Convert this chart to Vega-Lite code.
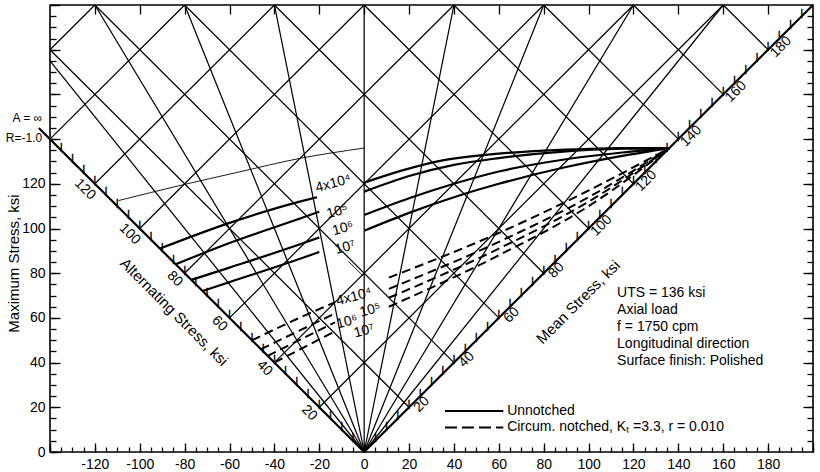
{
  "$schema": "https://vega.github.io/schema/vega-lite/v6.json",
  "width": 763,
  "height": 447,
  "autosize": {"type": "none"},
  "padding": {"left": 50, "top": 5, "right": 7, "bottom": 20},
  "background": "white",
  "config": {
    "view": {"stroke": "black", "strokeWidth": 1.6},
    "axis": {"labelFont": "Liberation Sans", "labelFontSize": 14, "labelColor": "black", "tickColor": "black", "tickWidth": 1.3, "domain": false, "grid": false, "titleFont": "Liberation Sans", "titleFontSize": 15, "titleFontWeight": "normal", "titleColor": "black", "labelFlush": false, "labelOverlap": false},
    "text": {"font": "Liberation Sans", "fontSize": 15, "color": "black"}
  },
  "datasets": {
    "grid": [
      {"id": "m20", "x": 20, "y": 20}, {"id": "m20", "x": -140, "y": 180},
      {"id": "m40", "x": 40, "y": 40}, {"id": "m40", "x": -120, "y": 200},
      {"id": "m60", "x": 60, "y": 60}, {"id": "m60", "x": -80, "y": 200},
      {"id": "m80", "x": 80, "y": 80}, {"id": "m80", "x": -40, "y": 200},
      {"id": "m100", "x": 100, "y": 100}, {"id": "m100", "x": 0, "y": 200},
      {"id": "m120", "x": 120, "y": 120}, {"id": "m120", "x": 40, "y": 200},
      {"id": "m140", "x": 140, "y": 140}, {"id": "m140", "x": 80, "y": 200},
      {"id": "m160", "x": 160, "y": 160}, {"id": "m160", "x": 120, "y": 200},
      {"id": "m180", "x": 180, "y": 180}, {"id": "m180", "x": 160, "y": 200},
      {"id": "a20", "x": -20, "y": 20}, {"id": "a20", "x": 160, "y": 200},
      {"id": "a40", "x": -40, "y": 40}, {"id": "a40", "x": 120, "y": 200},
      {"id": "a60", "x": -60, "y": 60}, {"id": "a60", "x": 80, "y": 200},
      {"id": "a80", "x": -80, "y": 80}, {"id": "a80", "x": 40, "y": 200},
      {"id": "a100", "x": -100, "y": 100}, {"id": "a100", "x": 0, "y": 200},
      {"id": "a120", "x": -120, "y": 120}, {"id": "a120", "x": -40, "y": 200},
      {"id": "a140", "x": -140, "y": 140}, {"id": "a140", "x": -80, "y": 200},
      {"id": "a160", "x": -140, "y": 180}, {"id": "a160", "x": -120, "y": 200}
    ],
    "radial": [
      {"id": "r-0.8", "x": 0, "y": 0}, {"id": "r-0.8", "x": -140, "y": 175},
      {"id": "r-0.6", "x": 0, "y": 0}, {"id": "r-0.6", "x": -120, "y": 200},
      {"id": "r-0.4", "x": 0, "y": 0}, {"id": "r-0.4", "x": -80, "y": 200},
      {"id": "r-0.2", "x": 0, "y": 0}, {"id": "r-0.2", "x": -40, "y": 200},
      {"id": "r0", "x": 0, "y": 0}, {"id": "r0", "x": 0, "y": 200},
      {"id": "r0.2", "x": 0, "y": 0}, {"id": "r0.2", "x": 40, "y": 200},
      {"id": "r0.4", "x": 0, "y": 0}, {"id": "r0.4", "x": 80, "y": 200},
      {"id": "r0.6", "x": 0, "y": 0}, {"id": "r0.6", "x": 120, "y": 200},
      {"id": "r0.8", "x": 0, "y": 0}, {"id": "r0.8", "x": 160, "y": 200}
    ],
    "mainaxes": [
      {"id": "alt", "x": -145, "y": 145}, {"id": "alt", "x": 0, "y": 0},
      {"id": "mean", "x": 0, "y": 0}, {"id": "mean", "x": 200, "y": 200}
    ],
    "ticks": [
      {"x": -5, "y": 5}, {"x": -10, "y": 10}, {"x": -15, "y": 15}, {"x": -20, "y": 20}, {"x": -25, "y": 25}, {"x": -30, "y": 30}, {"x": -35, "y": 35}, {"x": -40, "y": 40}, {"x": -45, "y": 45}, {"x": -50, "y": 50}, {"x": -55, "y": 55}, {"x": -60, "y": 60}, {"x": -65, "y": 65}, {"x": -70, "y": 70}, {"x": -75, "y": 75}, {"x": -80, "y": 80}, {"x": -85, "y": 85}, {"x": -90, "y": 90}, {"x": -95, "y": 95}, {"x": -100, "y": 100}, {"x": -105, "y": 105}, {"x": -110, "y": 110}, {"x": -115, "y": 115}, {"x": -120, "y": 120}, {"x": -125, "y": 125}, {"x": -130, "y": 130}, {"x": -135, "y": 135},
      {"x": 5, "y": 5}, {"x": 10, "y": 10}, {"x": 15, "y": 15}, {"x": 20, "y": 20}, {"x": 25, "y": 25}, {"x": 30, "y": 30}, {"x": 35, "y": 35}, {"x": 40, "y": 40}, {"x": 45, "y": 45}, {"x": 50, "y": 50}, {"x": 55, "y": 55}, {"x": 60, "y": 60}, {"x": 65, "y": 65}, {"x": 70, "y": 70}, {"x": 75, "y": 75}, {"x": 80, "y": 80}, {"x": 85, "y": 85}, {"x": 90, "y": 90}, {"x": 95, "y": 95}, {"x": 100, "y": 100}, {"x": 105, "y": 105}, {"x": 110, "y": 110}, {"x": 115, "y": 115}, {"x": 120, "y": 120}, {"x": 125, "y": 125}, {"x": 130, "y": 130}, {"x": 135, "y": 135}, {"x": 140, "y": 140}, {"x": 145, "y": 145}, {"x": 150, "y": 150}, {"x": 155, "y": 155}, {"x": 160, "y": 160}, {"x": 165, "y": 165}, {"x": 170, "y": 170}, {"x": 175, "y": 175}, {"x": 180, "y": 180}, {"x": 185, "y": 185}, {"x": 190, "y": 190}, {"x": 195, "y": 195}
    ],
    "altlabels": [
      {"x": -20, "y": 20, "t": "20"}, {"x": -40, "y": 40, "t": "40"}, {"x": -60, "y": 60, "t": "60"}, {"x": -80, "y": 80, "t": "80"}, {"x": -100, "y": 100, "t": "100"}, {"x": -120, "y": 120, "t": "120"}
    ],
    "meanlabels": [
      {"x": 20, "y": 20, "t": "20"}, {"x": 40, "y": 40, "t": "40"}, {"x": 60, "y": 60, "t": "60"}, {"x": 80, "y": 80, "t": "80"}, {"x": 100, "y": 100, "t": "100"}, {"x": 120, "y": 120, "t": "120"}, {"x": 140, "y": 140, "t": "140"}, {"x": 160, "y": 160, "t": "160"}, {"x": 180, "y": 180, "t": "180"}
    ],
    "solid": [
      {"c": "u4a", "x": -91, "y": 91}, {"c": "u4a", "x": -60, "y": 102.5}, {"c": "u4a", "x": -27, "y": 112.5}, {"c": "u4a", "x": -21, "y": 114},
      {"c": "u4b", "x": 0, "y": 120.5}, {"c": "u4b", "x": 17, "y": 126}, {"c": "u4b", "x": 35, "y": 130.5}, {"c": "u4b", "x": 60, "y": 133.5}, {"c": "u4b", "x": 90, "y": 135.3}, {"c": "u4b", "x": 115, "y": 136}, {"c": "u4b", "x": 136, "y": 136},
      {"c": "u5a", "x": -84, "y": 84}, {"c": "u5a", "x": -60, "y": 93.5}, {"c": "u5a", "x": -27, "y": 105}, {"c": "u5a", "x": -20, "y": 107.5},
      {"c": "u5b", "x": 0, "y": 116.5}, {"c": "u5b", "x": 20, "y": 123.5}, {"c": "u5b", "x": 40, "y": 128.5}, {"c": "u5b", "x": 60, "y": 131.5}, {"c": "u5b", "x": 90, "y": 134.5}, {"c": "u5b", "x": 115, "y": 135.7}, {"c": "u5b", "x": 136, "y": 136},
      {"c": "u6a", "x": -77, "y": 77}, {"c": "u6a", "x": -60, "y": 82.5}, {"c": "u6a", "x": -27, "y": 93.5}, {"c": "u6a", "x": -20, "y": 96},
      {"c": "u6b", "x": 0, "y": 106}, {"c": "u6b", "x": 20, "y": 113.5}, {"c": "u6b", "x": 40, "y": 120}, {"c": "u6b", "x": 60, "y": 125.5}, {"c": "u6b", "x": 90, "y": 131}, {"c": "u6b", "x": 115, "y": 134}, {"c": "u6b", "x": 136, "y": 136},
      {"c": "u7a", "x": -72, "y": 72}, {"c": "u7a", "x": -60, "y": 76}, {"c": "u7a", "x": -27, "y": 87}, {"c": "u7a", "x": -20, "y": 89.5},
      {"c": "u7b", "x": 0, "y": 99}, {"c": "u7b", "x": 20, "y": 107}, {"c": "u7b", "x": 40, "y": 114}, {"c": "u7b", "x": 60, "y": 120}, {"c": "u7b", "x": 90, "y": 127.5}, {"c": "u7b", "x": 115, "y": 132.5}, {"c": "u7b", "x": 136, "y": 136}
    ],
    "dashed": [
      {"c": "n4a", "x": -50, "y": 50}, {"c": "n4a", "x": -30, "y": 59.5}, {"c": "n4a", "x": -13, "y": 67},
      {"c": "n4b", "x": 11, "y": 78}, {"c": "n4b", "x": 60, "y": 98}, {"c": "n4b", "x": 100, "y": 117}, {"c": "n4b", "x": 136, "y": 136},
      {"c": "n5a", "x": -46, "y": 46}, {"c": "n5a", "x": -13, "y": 62},
      {"c": "n5b", "x": 11, "y": 73}, {"c": "n5b", "x": 60, "y": 94}, {"c": "n5b", "x": 100, "y": 114}, {"c": "n5b", "x": 136, "y": 136},
      {"c": "n6a", "x": -43, "y": 43}, {"c": "n6a", "x": -13, "y": 58},
      {"c": "n6b", "x": 11, "y": 69}, {"c": "n6b", "x": 60, "y": 91}, {"c": "n6b", "x": 100, "y": 112}, {"c": "n6b", "x": 136, "y": 136},
      {"c": "n7a", "x": -40, "y": 40}, {"c": "n7a", "x": -13, "y": 54},
      {"c": "n7b", "x": 11, "y": 65}, {"c": "n7b", "x": 60, "y": 88}, {"c": "n7b", "x": 100, "y": 110}, {"c": "n7b", "x": 136, "y": 136}
    ],
    "thin": [
      {"c": "t", "x": -109.5, "y": 112.5}, {"c": "t", "x": -81, "y": 119.5}, {"c": "t", "x": -57, "y": 125}, {"c": "t", "x": -28, "y": 131.5}, {"c": "t", "x": 0, "y": 136},
      {"c": "leader", "x": -7.1, "y": 85.4}, {"c": "leader", "x": -0.4, "y": 78.7}
    ],
    "curvelabels": [
      {"x": -13.8, "y": 120.1, "t": "4x10⁴"}, {"x": -12, "y": 107.6, "t": "10⁵"}, {"x": -9.4, "y": 100, "t": "10⁶"}, {"x": -8.5, "y": 91.5, "t": "10⁷"},
      {"x": -4.5, "y": 69.4, "t": "4x10⁴"}, {"x": 2.7, "y": 63.5, "t": "10⁵"}, {"x": -7.6, "y": 58.2, "t": "10⁶"}, {"x": 0, "y": 54.1, "t": "10⁷"}
    ],
    "notes": [
      {"x": 112.7, "y": 71.1, "t": "UTS = 136 ksi"},
      {"x": 112.7, "y": 63.5, "t": "Axial load"},
      {"x": 112.7, "y": 55.9, "t": "f = 1750 cpm"},
      {"x": 112.7, "y": 48.1, "t": "Longitudinal direction"},
      {"x": 112.7, "y": 40.9, "t": "Surface finish: Polished"},
      {"x": 63.7, "y": 18.3, "t": "Unnotched"},
      {"x": 63.7, "y": 11.0, "t": "Circum. notched, Kₜ =3.3, r = 0.010"}
    ],
    "rlabels": [
      {"x": -143.5, "y": 149.4, "t": "A = ∞"},
      {"x": -143.5, "y": 140.5, "t": "R=-1.0"}
    ],
    "legsolid": [{"x": 36, "y": 18.3}, {"x": 62, "y": 18.3}],
    "legdash": [{"x": 36, "y": 11.0}, {"x": 62, "y": 11.0}],
    "alttitle": [{"x": -84.7, "y": 62.6, "t": "Alternating Stress, ksi"}],
    "meantitle": [{"x": 95.4, "y": 67.1, "t": "Mean Stress, ksi"}]
  },
  "resolve": {"axis": {"x": "independent", "y": "independent"}},
  "layer": [
    {
      "data": {"name": "grid"},
      "mark": {"type": "line", "stroke": "black", "strokeWidth": 1.25},
      "encoding": {
        "x": {"field": "x", "type": "quantitative", "scale": {"domain": [-140, 200], "nice": false, "zero": false},
          "axis": {"orient": "bottom", "title": null, "values": [-140, -120, -100, -80, -60, -40, -20, 0, 20, 40, 60, 80, 100, 120, 140, 160, 180, 200], "labelExpr": "datum.value > -140 && datum.value < 200 ? replace(datum.label, '−', '-') : ''", "tickSize": -9, "labelPadding": 14}},
        "y": {"field": "y", "type": "quantitative", "scale": {"domain": [0, 200], "nice": false, "zero": false},
          "axis": {"orient": "left", "title": "Maximum Stress, ksi", "titleX": -37, "titleY": 258, "titleAngle": -90, "titleAlign": "center", "titleBaseline": "middle", "titleFontSize": 15, "values": [0, 20, 40, 60, 80, 100, 120, 140, 160, 180, 200], "labelExpr": "datum.value <= 120 ? datum.label : ''", "tickSize": -10, "labelPadding": 15}},
        "detail": {"field": "id"}
      }
    },
    {
      "data": {"name": "radial"},
      "mark": {"type": "line", "stroke": "black", "strokeWidth": 1.25},
      "encoding": {
        "x": {"field": "x", "type": "quantitative", "scale": {"domain": [-140, 200], "nice": false, "zero": false},
          "axis": {"orient": "bottom", "title": null, "labels": false, "tickSize": -5, "values": [-140, -135, -130, -125, -120, -115, -110, -105, -100, -95, -90, -85, -80, -75, -70, -65, -60, -55, -50, -45, -40, -35, -30, -25, -20, -15, -10, -5, 0, 5, 10, 15, 20, 25, 30, 35, 40, 45, 50, 55, 60, 65, 70, 75, 80, 85, 90, 95, 100, 105, 110, 115, 120, 125, 130, 135, 140, 145, 150, 155, 160, 165, 170, 175, 180, 185, 190, 195, 200]}},
        "y": {"field": "y", "type": "quantitative", "scale": {"domain": [0, 200], "nice": false, "zero": false},
          "axis": {"orient": "left", "title": null, "labels": false, "tickSize": -6, "values": [0, 5, 10, 15, 20, 25, 30, 35, 40, 45, 50, 55, 60, 65, 70, 75, 80, 85, 90, 95, 100, 105, 110, 115, 120, 125, 130, 135, 140, 145, 150, 155, 160, 165, 170, 175, 180, 185, 190, 195, 200]}},
        "detail": {"field": "id"}
      }
    },
    {
      "data": {"name": "mainaxes"},
      "mark": {"type": "line", "stroke": "black", "strokeWidth": 2.2, "clip": false},
      "encoding": {
        "x": {"field": "x", "type": "quantitative", "scale": {"domain": [-140, 200], "nice": false, "zero": false},
          "axis": {"orient": "top", "title": null, "labels": false, "tickSize": -9, "values": [-120, -100, -80, -60, -40, -20, 0, 20, 40, 60, 80, 100, 120, 140, 160, 180]}},
        "y": {"field": "y", "type": "quantitative", "scale": {"domain": [0, 200], "nice": false, "zero": false},
          "axis": {"orient": "right", "title": null, "labels": false, "tickSize": -6, "values": [5, 10, 15, 20, 25, 30, 35, 40, 45, 50, 55, 60, 65, 70, 75, 80, 85, 90, 95, 100, 105, 110, 115, 120, 125, 130, 135, 140, 145, 150, 155, 160, 165, 170, 175, 180, 185, 190, 195]}},
        "detail": {"field": "id"}
      }
    },
    {
      "data": {"name": "ticks"},
      "mark": {"type": "text", "text": "|", "fontSize": 9, "baseline": "bottom", "align": "center", "dy": 1.5, "font": "DejaVu Sans", "color": "black", "stroke": "black", "strokeWidth": 0.5},
      "encoding": {
        "x": {"field": "x", "type": "quantitative", "scale": {"domain": [-140, 200], "nice": false, "zero": false}, "axis": null},
        "y": {"field": "y", "type": "quantitative", "scale": {"domain": [0, 200], "nice": false, "zero": false}, "axis": null}
      }
    },
    {
      "data": {"name": "solid"},
      "mark": {"type": "line", "stroke": "black", "strokeWidth": 2.2, "interpolate": "monotone"},
      "encoding": {
        "x": {"field": "x", "type": "quantitative", "scale": {"domain": [-140, 200], "nice": false, "zero": false}, "axis": null},
        "y": {"field": "y", "type": "quantitative", "scale": {"domain": [0, 200], "nice": false, "zero": false}, "axis": null},
        "detail": {"field": "c"}
      }
    },
    {
      "data": {"name": "dashed"},
      "mark": {"type": "line", "stroke": "black", "strokeWidth": 2, "strokeDash": [9, 5], "interpolate": "monotone"},
      "encoding": {
        "x": {"field": "x", "type": "quantitative", "scale": {"domain": [-140, 200], "nice": false, "zero": false}, "axis": null},
        "y": {"field": "y", "type": "quantitative", "scale": {"domain": [0, 200], "nice": false, "zero": false}, "axis": null},
        "detail": {"field": "c"}
      }
    },
    {
      "data": {"name": "thin"},
      "mark": {"type": "line", "stroke": "black", "strokeWidth": 0.9, "interpolate": "monotone"},
      "encoding": {
        "x": {"field": "x", "type": "quantitative", "scale": {"domain": [-140, 200], "nice": false, "zero": false}, "axis": null},
        "y": {"field": "y", "type": "quantitative", "scale": {"domain": [0, 200], "nice": false, "zero": false},
          "axis": {"orient": "right", "title": null, "labels": false, "tickSize": -10, "values": [20, 40, 60, 80, 100, 120, 140, 160, 180]}},
        "detail": {"field": "c"}
      }
    },
    {
      "data": {"name": "legsolid"},
      "mark": {"type": "line", "stroke": "black", "strokeWidth": 2},
      "encoding": {
        "x": {"field": "x", "type": "quantitative", "scale": {"domain": [-140, 200], "nice": false, "zero": false}, "axis": null},
        "y": {"field": "y", "type": "quantitative", "scale": {"domain": [0, 200], "nice": false, "zero": false}, "axis": null}
      }
    },
    {
      "data": {"name": "legdash"},
      "mark": {"type": "line", "stroke": "black", "strokeWidth": 2, "strokeDash": [12, 5]},
      "encoding": {
        "x": {"field": "x", "type": "quantitative", "scale": {"domain": [-140, 200], "nice": false, "zero": false}, "axis": null},
        "y": {"field": "y", "type": "quantitative", "scale": {"domain": [0, 200], "nice": false, "zero": false}, "axis": null}
      }
    },
    {
      "data": {"name": "altlabels"},
      "mark": {"type": "text", "angle": 45, "fontSize": 14, "dx": -3, "dy": 11, "align": "center", "baseline": "middle"},
      "encoding": {
        "x": {"field": "x", "type": "quantitative", "scale": {"domain": [-140, 200], "nice": false, "zero": false}, "axis": null},
        "y": {"field": "y", "type": "quantitative", "scale": {"domain": [0, 200], "nice": false, "zero": false}, "axis": null},
        "text": {"field": "t"}
      }
    },
    {
      "data": {"name": "meanlabels"},
      "mark": {"type": "text", "angle": -45, "fontSize": 14, "dx": 11, "dy": 7, "align": "center", "baseline": "middle"},
      "encoding": {
        "x": {"field": "x", "type": "quantitative", "scale": {"domain": [-140, 200], "nice": false, "zero": false}, "axis": null},
        "y": {"field": "y", "type": "quantitative", "scale": {"domain": [0, 200], "nice": false, "zero": false}, "axis": null},
        "text": {"field": "t"}
      }
    },
    {
      "data": {"name": "curvelabels"},
      "mark": {"type": "text", "angle": -15, "fontSize": 14, "align": "center", "baseline": "middle"},
      "encoding": {
        "x": {"field": "x", "type": "quantitative", "scale": {"domain": [-140, 200], "nice": false, "zero": false}, "axis": null},
        "y": {"field": "y", "type": "quantitative", "scale": {"domain": [0, 200], "nice": false, "zero": false}, "axis": null},
        "text": {"field": "t"}
      }
    },
    {
      "data": {"name": "notes"},
      "mark": {"type": "text", "fontSize": 14, "align": "left", "baseline": "middle"},
      "encoding": {
        "x": {"field": "x", "type": "quantitative", "scale": {"domain": [-140, 200], "nice": false, "zero": false}, "axis": null},
        "y": {"field": "y", "type": "quantitative", "scale": {"domain": [0, 200], "nice": false, "zero": false}, "axis": null},
        "text": {"field": "t"}
      }
    },
    {
      "data": {"name": "rlabels"},
      "mark": {"type": "text", "fontSize": 12, "align": "right", "baseline": "middle"},
      "encoding": {
        "x": {"field": "x", "type": "quantitative", "scale": {"domain": [-140, 200], "nice": false, "zero": false}, "axis": null},
        "y": {"field": "y", "type": "quantitative", "scale": {"domain": [0, 200], "nice": false, "zero": false}, "axis": null},
        "text": {"field": "t"}
      }
    },
    {
      "data": {"name": "alttitle"},
      "mark": {"type": "text", "fontSize": 15, "angle": 45, "align": "center", "baseline": "middle"},
      "encoding": {
        "x": {"field": "x", "type": "quantitative", "scale": {"domain": [-140, 200], "nice": false, "zero": false}, "axis": null},
        "y": {"field": "y", "type": "quantitative", "scale": {"domain": [0, 200], "nice": false, "zero": false}, "axis": null},
        "text": {"field": "t"}
      }
    },
    {
      "data": {"name": "meantitle"},
      "mark": {"type": "text", "fontSize": 15, "angle": -45, "align": "center", "baseline": "middle"},
      "encoding": {
        "x": {"field": "x", "type": "quantitative", "scale": {"domain": [-140, 200], "nice": false, "zero": false}, "axis": null},
        "y": {"field": "y", "type": "quantitative", "scale": {"domain": [0, 200], "nice": false, "zero": false}, "axis": null},
        "text": {"field": "t"}
      }
    }
  ]
}
